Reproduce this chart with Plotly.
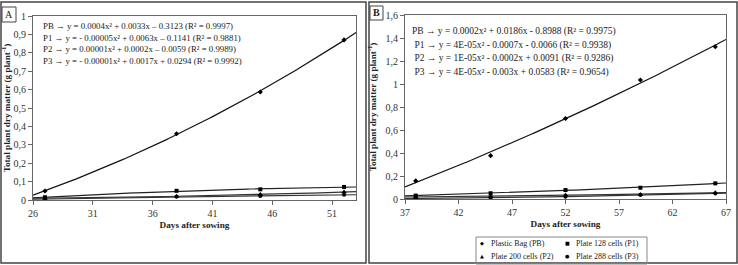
import numpy as np
import plotly.graph_objects as go

# ---------------- data ----------------
days_a = [27, 38, 45, 52]
pb_a = [0.049, 0.360, 0.587, 0.870]
p1_a = [0.015, 0.050, 0.058, 0.071]
p2_a = [0.010, 0.020, 0.030, 0.043]
p3_a = [0.005, 0.017, 0.022, 0.028]

days_b = [38, 45, 52, 59, 66]
pb_b = [0.157, 0.377, 0.700, 1.035, 1.324]
p1_b = [0.030, 0.050, 0.078, 0.098, 0.136]
p2_b = [0.018, 0.025, 0.035, 0.040, 0.055]
p3_b = [0.005, 0.010, 0.020, 0.035, 0.048]

series_names = ["Plastic Bag (PB)", "Plate 128 cells (P1)", "Plate 200 cells (P2)", "Plate 288 cells (P3)"]
legend_glyphs = ["◆", "■", "▲", "●"]

eq_a = [
    "PB → y = 0.0004x² + 0.0033x – 0.3123 (R² = 0.9997)",
    "P1 → y = - 0.00005x² + 0.0063x – 0.1141 (R² = 0.9881)",
    "P2 → y = 0.00001x² + 0.0002x – 0.0059 (R² = 0.9989)",
    "P3 → y = - 0.00001x² + 0.0017x + 0.0294 (R² = 0.9992)",
]
eq_b = [
    "PB → y = 0.0002x² + 0.0186x - 0.8988 (R² = 0.9975)",
    " P1 → y = 4E-05x² - 0.0007x - 0.0066 (R² = 0.9938)",
    " P2 → y = 1E-05x² - 0.0002x + 0.0091 (R² = 0.9286)",
    " P3 → y = 4E-05x² - 0.003x + 0.0583 (R² = 0.9654)",
]

range_a = [26, 53]
range_b = [37, 67]

# ---------------- layout helpers ----------------
W, H = 738, 265
def fx(px):
    return px / W
def fy(py):
    return 1 - py / H

FONT = "Liberation Serif, Times New Roman, serif"
symbols = ["diamond", "square", "triangle-up", "circle"]
sizes = [4, 4, 5, 4]
line_colors = ["#111", "#222", "#333", "#333"]

fig = go.Figure()

def add_panel(days, series, xr, xa, ya):
    xs = np.linspace(xr[0], xr[1], 120)
    for i, vals in enumerate(series):
        coef = np.polyfit(days, vals, 2)
        fig.add_trace(go.Scatter(
            x=xs, y=np.polyval(coef, xs), mode="lines",
            line=dict(color=line_colors[i], width=1.2),
            xaxis=xa, yaxis=ya, showlegend=False, hoverinfo="skip"))
    for i, vals in enumerate(series):
        fig.add_trace(go.Scatter(
            x=days, y=vals, mode="markers", name=series_names[i],
            marker=dict(symbol=symbols[i], size=sizes[i], color="black"),
            xaxis=xa, yaxis=ya, showlegend=False))

add_panel(days_a, [pb_a, p1_a, p2_a, p3_a], range_a, "x", "y")
add_panel(days_b, [pb_b, p1_b, p2_b, p3_b], range_b, "x2", "y2")

tickfont = dict(family=FONT, size=10, color="#333")
titlefont = dict(family=FONT, size=9.2, color="#222")
axis_common = dict(showgrid=False, zeroline=False, showline=True, linecolor="#666",
                   linewidth=1, mirror=True, ticks="outside", ticklen=4,
                   tickcolor="#666", tickfont=tickfont, automargin=False)

ytitle = "<b>Total plant dry matter (g plant<sup>-1</sup>)</b>"
xtitle = "<b>Days after sowing</b>"

fig.update_layout(
    width=W, height=H, margin=dict(l=0, r=0, t=0, b=0, pad=0, autoexpand=False),
    paper_bgcolor="white", plot_bgcolor="white",
    separators=",.", showlegend=False,
    xaxis=dict(domain=[fx(33), fx(356)], range=range_a, dtick=5, tick0=26,
               title=dict(text=xtitle, font=titlefont, standoff=3), anchor="y", **axis_common),
    yaxis=dict(domain=[fy(200), fy(16)], range=[0, 1], dtick=0.1,
               title=dict(text=ytitle, font=titlefont, standoff=7), anchor="x", **axis_common),
    xaxis2=dict(domain=[fx(405), fx(726)], range=range_b, dtick=5, tick0=37,
                title=dict(text=xtitle, font=titlefont, standoff=3), anchor="y2", **axis_common),
    yaxis2=dict(domain=[fy(199), fy(15)], range=[0, 1.6], dtick=0.2,
                title=dict(text=ytitle, font=titlefont, standoff=7), anchor="x2", **axis_common),
)

shapes = [
    dict(type="rect", xref="paper", yref="paper", x0=fx(1), x1=fx(366), y0=fy(263), y1=fy(2),
         line=dict(color="#444", width=1.5)),
    dict(type="rect", xref="paper", yref="paper", x0=fx(369), x1=fx(737), y0=fy(263), y1=fy(2),
         line=dict(color="#444", width=1.5)),
    dict(type="rect", xref="paper", yref="paper", x0=fx(2), x1=fx(16), y0=fy(22), y1=fy(7),
         line=dict(color="#444", width=1)),
    dict(type="rect", xref="paper", yref="paper", x0=fx(370), x1=fx(383), y0=fy(20), y1=fy(6),
         line=dict(color="#444", width=1)),
    dict(type="rect", xref="paper", yref="paper", x0=fx(476), x1=fx(647), y0=fy(264), y1=fy(237),
         line=dict(color="#888", width=1)),
]
fig.update_layout(shapes=shapes)

ann = [
    dict(text="A", x=fx(9), y=fy(14.5), xref="paper", yref="paper", showarrow=False,
         font=dict(family=FONT, size=10, color="#222"), xanchor="center", yanchor="middle"),
    dict(text="<b>B</b>", x=fx(376.5), y=fy(13), xref="paper", yref="paper", showarrow=False,
         font=dict(family=FONT, size=10, color="#222"), xanchor="center", yanchor="middle"),
]
for i, t in enumerate(eq_a):
    ann.append(dict(text=t, x=fx(41), y=fy(26 + 11.6 * i), xref="paper", yref="paper",
                    showarrow=False, xanchor="left", yanchor="middle",
                    font=dict(family=FONT, size=8.8, color="#222")))
for i, t in enumerate(eq_b):
    ann.append(dict(text=t, x=fx(410), y=fy(32 + 13.5 * i), xref="paper", yref="paper",
                    showarrow=False, xanchor="left", yanchor="middle",
                    font=dict(family=FONT, size=9.5, color="#222")))

# legend (panel B): 2 x 2 grid of glyph + label
leg_cols = [482, 567]
leg_rows = [243, 256]
for i, name in enumerate(series_names):
    cx = leg_cols[i % 2]
    cy = leg_rows[i // 2]
    ann.append(dict(text=legend_glyphs[i], x=fx(cx), y=fy(cy), xref="paper", yref="paper",
                    showarrow=False, xanchor="center", yanchor="middle",
                    font=dict(family="DejaVu Sans", size=5, color="black")))
    ann.append(dict(text=name, x=fx(cx + 7), y=fy(cy), xref="paper", yref="paper",
                    showarrow=False, xanchor="left", yanchor="middle",
                    font=dict(family=FONT, size=8, color="#222")))
fig.update_layout(annotations=ann)

fig.write_html("out.html")
